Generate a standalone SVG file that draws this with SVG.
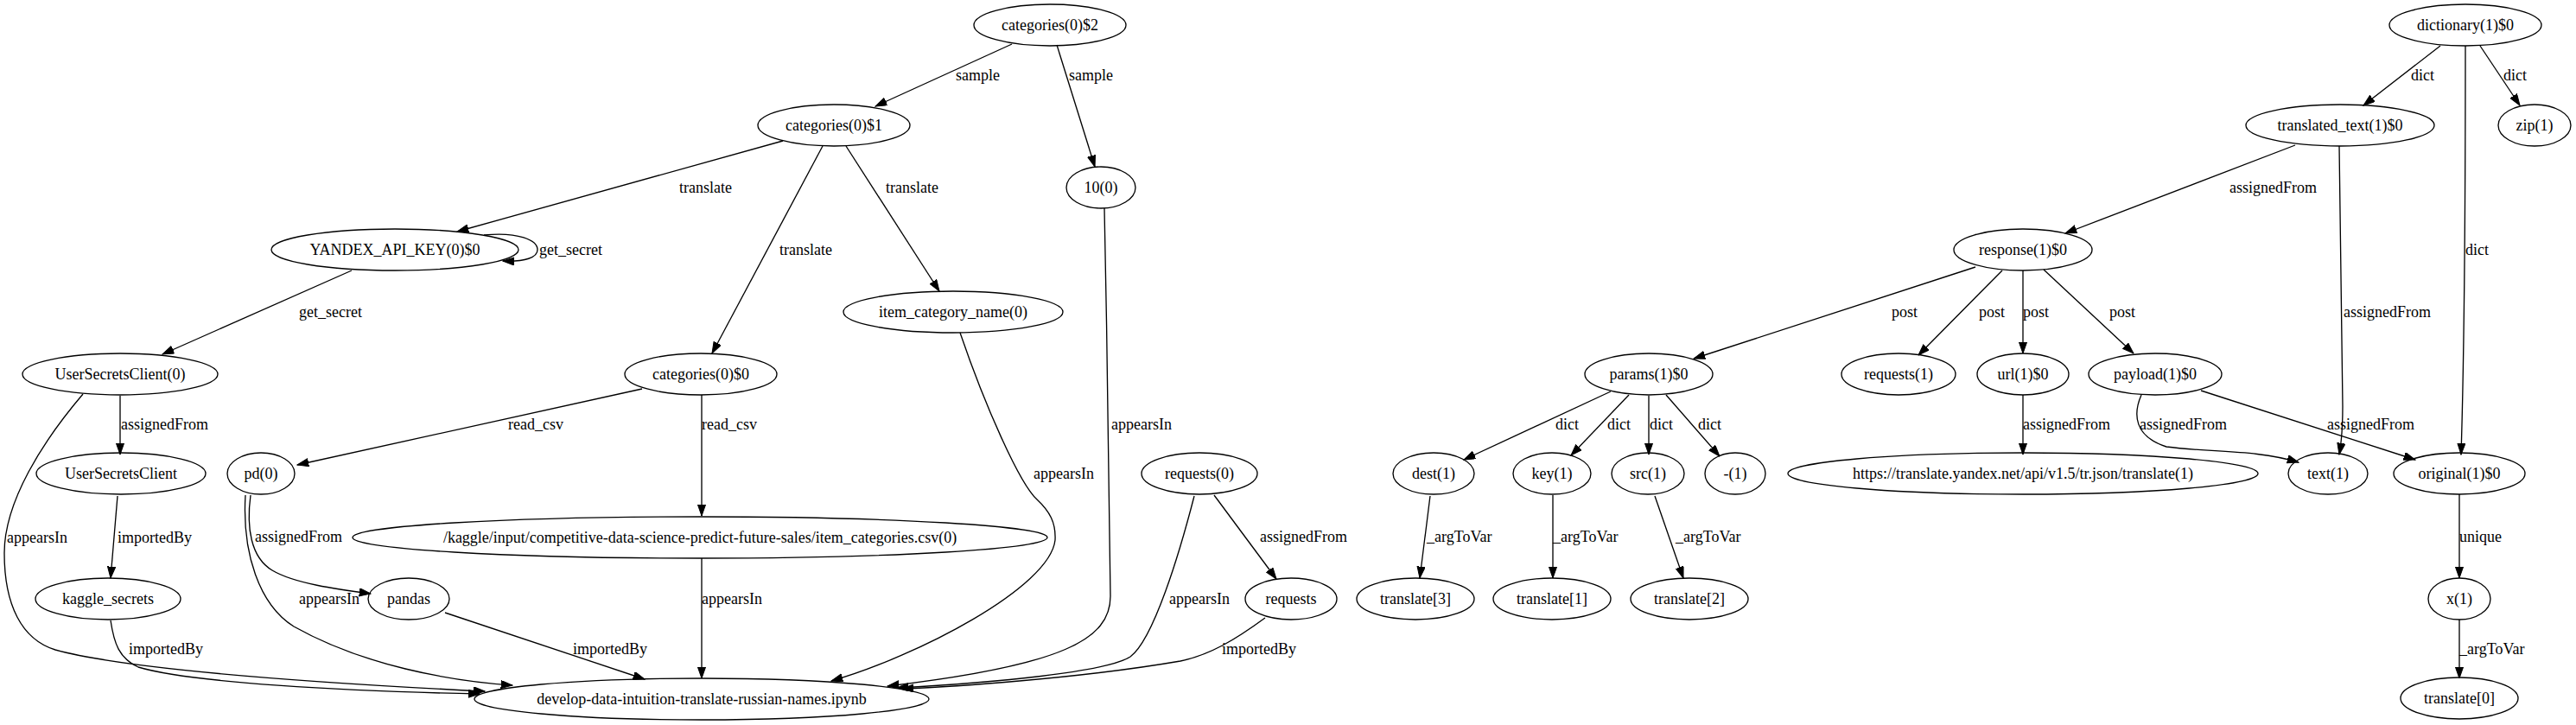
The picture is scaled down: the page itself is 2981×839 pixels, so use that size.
<svg xmlns="http://www.w3.org/2000/svg" width="2981" height="839" viewBox="0 0 2981 839">
<style>
text{font-family:"Liberation Serif","Times New Roman",serif;font-size:18px;fill:#000}
.n ellipse{fill:none;stroke:#000;stroke-width:1.33}
.n text{text-anchor:middle}
.e path{fill:none;stroke:#000;stroke-width:1.33;marker-end:url(#a)}
.e text{text-anchor:start}
</style>
<defs>
<marker id="a" markerUnits="userSpaceOnUse" markerWidth="14" markerHeight="10" refX="13.3" refY="4.67" orient="auto">
<path d="M0,0 L13.3,4.67 L0,9.33 z" fill="#000" stroke="#000" stroke-width="1"/>
</marker>
</defs>
<rect width="2981" height="839" fill="#fff"/>
<g id="edges" class="e">
<path d="M1171,51 L1013,123"/><text x="1106" y="93">sample</text>
<path d="M1223,52 L1267,193"/><text x="1237" y="93">sample</text>
<path d="M906,163 L529,268"/><text x="786" y="223">translate</text>
<path d="M952,169 L824,409"/><text x="902" y="295">translate</text>
<path d="M979,169 L1087,337"/><text x="1025" y="223">translate</text>
<path d="M560,272 C600,268 622,278 622,289 C622,298 608,303 582,302"/><text x="624" y="295">get_secret</text>
<path d="M407,313 L188,410"/><text x="346" y="367">get_secret</text>
<path d="M139,458 L139,526"/><text x="140" y="497">assignedFrom</text>
<path d="M136,574 L128,669"/><text x="136" y="628">importedBy</text>
<path d="M96,456 C50,510 5,580 5,640 C5,700 25,740 64,752 C100,762 200,782 561,800"/><text x="8" y="628">appearsIn</text>
<path d="M128,718 C132,745 138,762 160,772 C220,790 400,800 555,803"/><text x="149" y="757">importedBy</text>
<path d="M743,450 L344,538"/><text x="588" y="497">read_csv</text>
<path d="M812,457 L812,597"/><text x="812" y="497">read_csv</text>
<path d="M290,573 C285,610 290,645 315,660 C340,675 390,682 429,687"/><text x="295" y="627">assignedFrom</text>
<path d="M284,573 C280,640 300,700 340,725 C420,770 520,788 593,793"/><text x="346" y="699">appearsIn</text>
<path d="M515,709 L746,786"/><text x="663" y="757">importedBy</text>
<path d="M812,646 L812,785"/><text x="812" y="699">appearsIn</text>
<path d="M1111,385 C1140,470 1180,560 1200,578 C1215,592 1222,605 1221,625 C1215,680 1060,760 962,788"/><text x="1196" y="554">appearsIn</text>
<path d="M1278,241 C1281,400 1285,600 1285,690 C1285,740 1230,770 1027,794"/><text x="1286" y="497">appearsIn</text>
<path d="M1382,574 C1365,640 1335,740 1308,760 C1280,778 1150,790 1038,796"/><text x="1353" y="699">appearsIn</text>
<path d="M1405,573 L1477,670"/><text x="1458" y="627">assignedFrom</text>
<path d="M1464,715 C1430,740 1400,758 1366,765 C1250,785 1100,795 1044,797"/><text x="1414" y="757">importedBy</text>
<path d="M1655,574 L1643,669"/><text x="1651" y="627">_argToVar</text>
<path d="M1797,573 L1797,669"/><text x="1797" y="627">_argToVar</text>
<path d="M1915,574 L1948,669"/><text x="1939" y="627">_argToVar</text>
<path d="M1864,453 L1694,532"/><text x="1800" y="497">dict</text>
<path d="M1885,457 L1818,527"/><text x="1860" y="497">dict</text>
<path d="M1908,458 L1908,526"/><text x="1909" y="497">dict</text>
<path d="M1928,457 L1990,528"/><text x="1965" y="497">dict</text>
<path d="M2286,309 L1960,415"/><text x="2189" y="367">post</text>
<path d="M2317,313 L2220,411"/><text x="2290" y="367">post</text>
<path d="M2341,313 L2341,409"/><text x="2341" y="367">post</text>
<path d="M2365,312 L2469,409"/><text x="2441" y="367">post</text>
<path d="M2341,457 L2341,526"/><text x="2341" y="497">assignedFrom</text>
<path d="M2656,168 L2390,270"/><text x="2580" y="223">assignedFrom</text>
<path d="M2707,169 L2711,470 C2711,500 2709,515 2707,526"/><text x="2712" y="367">assignedFrom</text>
<path d="M2824,53 L2735,122"/><text x="2790" y="93">dict</text>
<path d="M2870,53 L2916,122"/><text x="2897" y="93">dict</text>
<path d="M2853,53 C2853,200 2852,400 2848,526"/><text x="2853" y="295">dict</text>
<path d="M2478,457 C2468,480 2470,505 2507,517 C2560,524 2610,520 2660,535"/><text x="2476" y="497">assignedFrom</text>
<path d="M2547,452 L2795,532"/><text x="2693" y="497">assignedFrom</text>
<path d="M2846,572 L2846,669"/><text x="2846" y="627">unique</text>
<path d="M2846,717 L2846,785"/><text x="2846" y="757">_argToVar</text>
</g>
<g id="cat2" class="n"><ellipse cx="1215" cy="29" rx="88" ry="24"/><text x="1215" y="35">categories(0)$2</text></g>
<g id="cat1" class="n"><ellipse cx="965" cy="145" rx="88" ry="24"/><text x="965" y="151">categories(0)$1</text></g>
<g id="ten" class="n"><ellipse cx="1274" cy="217" rx="40" ry="24"/><text x="1274" y="223">10(0)</text></g>
<g id="yandex" class="n"><ellipse cx="457" cy="289" rx="143" ry="24"/><text x="457" y="295">YANDEX_API_KEY(0)$0</text></g>
<g id="item" class="n"><ellipse cx="1103" cy="361" rx="127" ry="24"/><text x="1103" y="367">item_category_name(0)</text></g>
<g id="usc0" class="n"><ellipse cx="139" cy="433" rx="113" ry="24"/><text x="139" y="439">UserSecretsClient(0)</text></g>
<g id="cat0" class="n"><ellipse cx="811" cy="433" rx="88" ry="24"/><text x="811" y="439">categories(0)$0</text></g>
<g id="usc" class="n"><ellipse cx="140" cy="548" rx="98" ry="24"/><text x="140" y="554">UserSecretsClient</text></g>
<g id="pd" class="n"><ellipse cx="302" cy="548" rx="39" ry="24"/><text x="302" y="554">pd(0)</text></g>
<g id="csv" class="n"><ellipse cx="810" cy="622" rx="402" ry="24"/><text x="810" y="628">/kaggle/input/competitive-data-science-predict-future-sales/item_categories.csv(0)</text></g>
<g id="kaggle_secrets" class="n"><ellipse cx="125" cy="693" rx="84" ry="24"/><text x="125" y="699">kaggle_secrets</text></g>
<g id="pandas" class="n"><ellipse cx="473" cy="693" rx="47" ry="24"/><text x="473" y="699">pandas</text></g>
<g id="develop" class="n"><ellipse cx="812" cy="809" rx="263" ry="24"/><text x="812" y="815">develop-data-intuition-translate-russian-names.ipynb</text></g>
<g id="requests0" class="n"><ellipse cx="1388" cy="548" rx="67" ry="24"/><text x="1388" y="554">requests(0)</text></g>
<g id="requests" class="n"><ellipse cx="1494" cy="693" rx="53" ry="24"/><text x="1494" y="699">requests</text></g>
<g id="dictionary" class="n"><ellipse cx="2853" cy="29" rx="88" ry="24"/><text x="2853" y="35">dictionary(1)$0</text></g>
<g id="translated_text" class="n"><ellipse cx="2708" cy="145" rx="109" ry="24"/><text x="2708" y="151">translated_text(1)$0</text></g>
<g id="zip" class="n"><ellipse cx="2933" cy="145" rx="42" ry="24"/><text x="2933" y="151">zip(1)</text></g>
<g id="response" class="n"><ellipse cx="2341" cy="289" rx="80" ry="24"/><text x="2341" y="295">response(1)$0</text></g>
<g id="params" class="n"><ellipse cx="1908" cy="433" rx="74" ry="24"/><text x="1908" y="439">params(1)$0</text></g>
<g id="requests1" class="n"><ellipse cx="2197" cy="433" rx="66" ry="24"/><text x="2197" y="439">requests(1)</text></g>
<g id="url" class="n"><ellipse cx="2341" cy="433" rx="53" ry="24"/><text x="2341" y="439">url(1)$0</text></g>
<g id="payload" class="n"><ellipse cx="2494" cy="433" rx="77" ry="24"/><text x="2494" y="439">payload(1)$0</text></g>
<g id="dest" class="n"><ellipse cx="1659" cy="548" rx="47" ry="24"/><text x="1659" y="554">dest(1)</text></g>
<g id="key" class="n"><ellipse cx="1796" cy="548" rx="45" ry="24"/><text x="1796" y="554">key(1)</text></g>
<g id="src" class="n"><ellipse cx="1907" cy="548" rx="42" ry="24"/><text x="1907" y="554">src(1)</text></g>
<g id="minus" class="n"><ellipse cx="2008" cy="548" rx="35" ry="24"/><text x="2008" y="554">-(1)</text></g>
<g id="https" class="n"><ellipse cx="2341" cy="548" rx="272" ry="24"/><text x="2341" y="554">https://translate.yandex.net/api/v1.5/tr.json/translate(1)</text></g>
<g id="text1" class="n"><ellipse cx="2694" cy="548" rx="46" ry="24"/><text x="2694" y="554">text(1)</text></g>
<g id="original" class="n"><ellipse cx="2846" cy="548" rx="76" ry="24"/><text x="2846" y="554">original(1)$0</text></g>
<g id="t3" class="n"><ellipse cx="1638" cy="693" rx="68" ry="24"/><text x="1638" y="699">translate[3]</text></g>
<g id="t1" class="n"><ellipse cx="1796" cy="693" rx="68" ry="24"/><text x="1796" y="699">translate[1]</text></g>
<g id="t2" class="n"><ellipse cx="1955" cy="693" rx="68" ry="24"/><text x="1955" y="699">translate[2]</text></g>
<g id="x1" class="n"><ellipse cx="2846" cy="693" rx="36" ry="24"/><text x="2846" y="699">x(1)</text></g>
<g id="t0" class="n"><ellipse cx="2846" cy="808" rx="68" ry="24"/><text x="2846" y="814">translate[0]</text></g>
</svg>
